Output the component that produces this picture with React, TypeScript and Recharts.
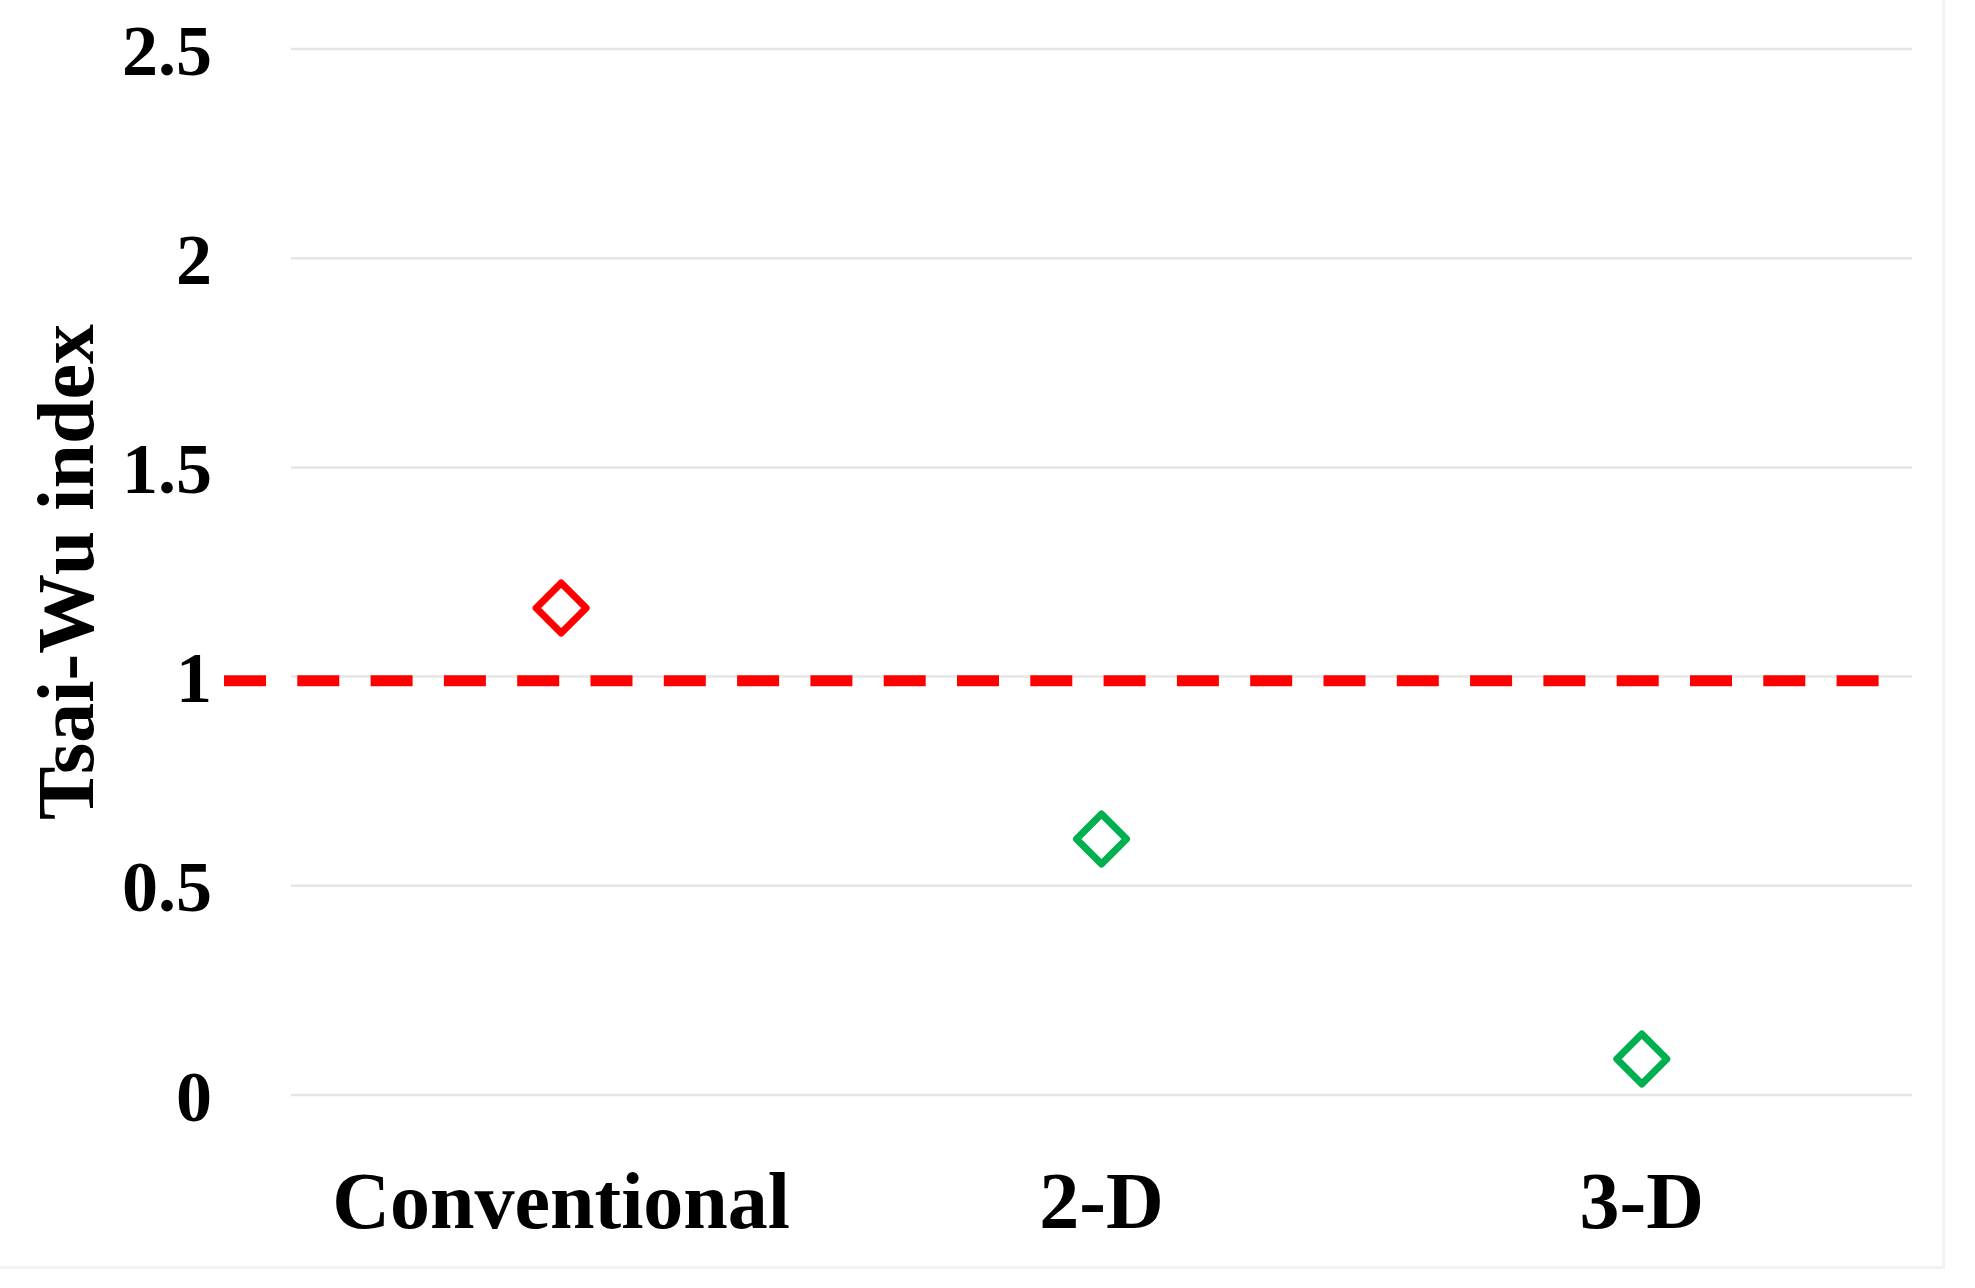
import { ComposedChart, Scatter, XAxis, YAxis, CartesianGrid, ReferenceLine, Label } from "recharts";

const categories = ["Conventional", "2-D", "3-D"];
const conventionalValues = [1.164, null, null];
const compositeValues = [null, 0.612, 0.086];
const yTicks = [0, 0.5, 1, 1.5, 2, 2.5];
const limitValue = 0.99;
// dashed limit line extent, in category-band units (0 = left edge of plot, 3 = right edge)
const limitStart = -0.124;
const limitEnd = 2.944;

const data = categories.map((name, i) => ({
  name,
  slot: i + 0.5,
  conventional: conventionalValues[i],
  composite: compositeValues[i],
}));

const font = "'Liberation Serif', 'Times New Roman', serif";

function Diamond(props: any) {
  const { cx, cy, stroke } = props;
  if (cx == null || cy == null || !Number.isFinite(cx) || !Number.isFinite(cy)) return null;
  const r = 25;
  return (
    <path
      d={`M${cx},${cy - r}L${cx + r},${cy}L${cx},${cy + r}L${cx - r},${cy}Z`}
      fill="none"
      stroke={stroke}
      strokeWidth={7}
      strokeLinejoin="round"
    />
  );
}

function YTitle(props: any) {
  const vb = props.viewBox || { x: 0, y: 0, width: 0, height: 0 };
  const x = vb.x + 93;
  const y = vb.y + vb.height / 2;
  return (
    <text
      x={x}
      y={y}
      transform={`rotate(-90, ${x}, ${y})`}
      textAnchor="middle"
      fontFamily={font}
      fontWeight={700}
      fontSize={80}
      fill="#000"
    >
      Tsai-Wu index
    </text>
  );
}

export default function App() {
  return (
    <div style={{ position: "relative", width: 1975, height: 1288, background: "#fff" }}>
      <style>{`body { margin: 0; }`}</style>
      <div
        style={{
          position: "absolute",
          left: 0,
          top: 0,
          width: 1942,
          height: 1266,
          borderRight: "3px solid #f3f3f3",
          borderBottom: "3px solid #f3f3f3",
        }}
      />
      <div style={{ position: "absolute", left: 0, top: 0 }}>
        <ComposedChart width={1975} height={1288} data={data} margin={{ top: 49, right: 63, bottom: 43, left: 0 }}>
          <CartesianGrid vertical={false} stroke="#e6e6e6" strokeWidth={2.5} />
          <XAxis
            dataKey="name"
            type="category"
            scale="band"
            height={150}
            axisLine={false}
            tickLine={false}
            tickSize={0}
            tickMargin={76}
            interval={0}
            tick={{ fontSize: 80, fontFamily: font, fontWeight: 700, fill: "#000" }}
          />
          <XAxis xAxisId="ref" dataKey="slot" type="number" domain={[0, 3]} allowDataOverflow hide />
          <YAxis
            type="number"
            domain={[0, 2.5]}
            ticks={yTicks}
            width={291}
            axisLine={false}
            tickLine={false}
            tickSize={0}
            tickMargin={79}
            interval={0}
            tick={{ fontSize: 72, fontFamily: font, fontWeight: 700, fill: "#000" }}
          >
            <Label content={<YTitle />} />
          </YAxis>
          <ReferenceLine
            xAxisId="ref"
            segment={[
              { x: limitStart, y: limitValue },
              { x: limitEnd, y: limitValue },
            ]}
            ifOverflow="visible"
            stroke="#ff0000"
            strokeWidth={11}
            strokeDasharray="42 31.3"
          />
          <Scatter dataKey="conventional" stroke="#ff0000" fill="none" shape={<Diamond />} isAnimationActive={false} />
          <Scatter dataKey="composite" stroke="#00b050" fill="none" shape={<Diamond />} isAnimationActive={false} />
        </ComposedChart>
      </div>
    </div>
  );
}
